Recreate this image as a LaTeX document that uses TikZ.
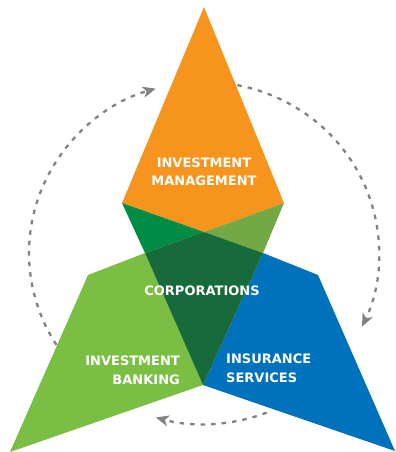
\documentclass[tikz,border=0pt]{standalone}
\usepackage{fontspec}
\setsansfont{DejaVu Sans}
\usetikzlibrary{arrows.meta,calc}

\definecolor{imorange}{HTML}{F7941D}
\definecolor{iblight}{HTML}{7ABF43}
\definecolor{isblue}{HTML}{0071BC}
\definecolor{corpdark}{HTML}{176A39}
\definecolor{overleft}{HTML}{008C45}
\definecolor{overright}{HTML}{73A844}
\definecolor{cyclegray}{HTML}{808285}

\begin{document}
\begin{tikzpicture}[x=1bp,y=-1bp,
  label/.style={text=white,inner sep=0pt,
    font=\sffamily\bfseries\fontsize{13bp}{16bp}\selectfont},
  cycle/.style={cyclegray,line width=2.3bp,dash pattern=on 4.5bp off 6bp,
    -{Stealth[length=13bp,width=11bp,inset=3.5bp]}}]

\useasboundingbox (0,0) rectangle (395,452);

% corner points of the pieces
\coordinate (apex) at (204,7);
\coordinate (ol) at (122,203);
\coordinate (or) at (284,203);
\coordinate (mid) at (204,232);
\coordinate (gl) at (145,253);
\coordinate (gr) at (263,253);
\coordinate (bot) at (203,385);

% investment management
\fill[imorange] (apex) -- (or) -- (mid) -- (ol) -- cycle;
% investment banking
\fill[iblight] (88,275) -- (gl) -- (bot) -- (10,452) -- cycle;
% insurance services
\fill[isblue] (gr) -- (318,275) -- (395,451) -- (bot) -- cycle;
% overlaps
\fill[overleft] (ol) -- (mid) -- (gl) -- cycle;
\fill[overright] (or) -- (mid) -- (gr) -- cycle;
\fill[corpdark] (mid) -- (gr) -- (bot) -- (gl) -- cycle;

% labels
\node[label,anchor=base] (im1) at (204,167.3) {INVESTMENT};
\node[label,anchor=base] (im2) at (204,185.7) {MANAGEMENT};
\node[label,anchor=base] (corp) at (202,295) {CORPORATIONS};
\node[label,anchor=base east] (ib1) at (180,365) {INVESTMENT};
\node[label,anchor=base east] (ib2) at (180,384) {BANKING};
\node[label,anchor=base west] (is1) at (226,363.3) {INSURANCE};
\node[label,anchor=base west] (is2) at (226,382.3) {SERVICES};

% cycle arrows around the pieces
\coordinate (c) at (204,253);
\coordinate (leftstart) at ($(c)+(147.5:175 and 171)$);
\coordinate (rightstart) at ($(c)+(-79:175 and 171)$);
\coordinate (botstart) at ($(c)+(69:175 and 171)$);
\draw[cycle] (leftstart) arc[start angle=-147.5,end angle=-254,x radius=175bp,y radius=171bp];
\draw[cycle] (rightstart) arc[start angle=79,end angle=-25.5,x radius=175bp,y radius=171bp];
\draw[cycle] (botstart) arc[start angle=-69,end angle=-106,x radius=175bp,y radius=171bp];
\end{tikzpicture}
\end{document}
